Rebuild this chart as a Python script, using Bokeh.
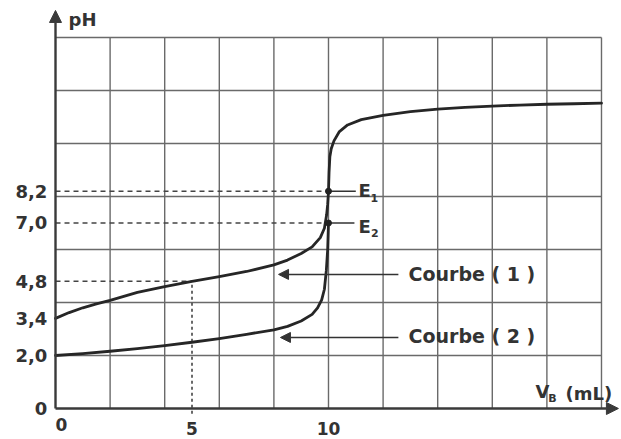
from bokeh.plotting import figure
from bokeh.models import Range1d, ColumnDataSource, Arrow, NormalHead
from bokeh.core.properties import value
from bokeh.embed import file_html
from bokeh.resources import INLINE

# ---------------- data ----------------
# Courbe (1): weak acid
v1 = [0, 0.5, 1, 1.5, 2, 3, 4, 5, 6, 7, 8, 8.5, 9, 9.4, 9.7, 9.85, 9.93, 9.97,
      10.0, 10.02, 10.05, 10.1, 10.2, 10.4, 10.7, 11.2, 12, 13, 14, 15, 16, 17, 18, 19, 20]
ph1 = [3.4, 3.62, 3.8, 3.95, 4.08, 4.38, 4.6, 4.8, 4.98, 5.17, 5.42, 5.6, 5.85, 6.1, 6.45, 6.8, 7.3, 7.7,
       8.2, 8.9, 9.5, 9.8, 10.1, 10.45, 10.7, 10.9, 11.06, 11.2, 11.3, 11.36, 11.41, 11.45, 11.48, 11.5, 11.52]
# Courbe (2): strong acid
v2 = [0, 1, 2, 3, 4, 5, 6, 7, 8, 8.5, 9, 9.4, 9.6, 9.75, 9.85, 9.92, 9.97, 10.0]
ph2 = [2.0, 2.07, 2.16, 2.26, 2.37, 2.5, 2.64, 2.8, 2.97, 3.1, 3.3, 3.55, 3.8, 4.1, 4.5, 5.2, 6.0, 7.0]

grid_v = [2, 4, 6, 8, 10, 12, 14, 16, 18, 20]
grid_ph = [2, 4, 6, 8, 10, 12, 14]
v_max = 20
ph_max = 14

x_ticks = [0.22, 5, 10]
x_tick_labels = ["0", "5", "10"]
y_ticks = [0, 2.0, 3.4, 4.8, 7.0, 8.2]
y_tick_labels = ["0", "2,0", "3,4", "4,8", "7,0", "8,2"]

v_eq = 10
ph_E = [8.2, 7.0]
E_names = ["E", "E"]
E_subs = ["1", "2"]
v_half = 5
ph_half = 4.8

courbe_names = ["Courbe ( 1 )", "Courbe ( 2 )"]
courbe_text_v = [12.93, 12.93]
courbe_text_ph = [5.06, 2.75]
pointer_start_v = [12.56, 12.56]
pointer_end_v = [8.17, 8.24]
pointer_ph = [5.06, 2.68]

# ---------------- figure ----------------
INK = "#333333"
GRID = "#6a6a6a"
FONT = value("DejaVu Sans")

p = figure(width=621, height=439, output_backend="svg", toolbar_location=None,
           x_range=Range1d(-2.015, 20.733), y_range=Range1d(-1.170, 15.396),
           x_axis_location=None, y_axis_location=None,
           min_border=0, min_border_left=0, min_border_right=0,
           min_border_top=0, min_border_bottom=0)
p.outline_line_color = None
p.xgrid.visible = False
p.ygrid.visible = False
p.background_fill_color = "white"
p.border_fill_color = "white"

# grid
p.segment(x0=grid_v, y0=0, x1=grid_v, y1=ph_max, line_color=GRID, line_width=1.4)
p.segment(x0=0, y0=grid_ph, x1=v_max, y1=grid_ph, line_color=GRID, line_width=1.4)

# dashed reading lines
p.segment(x0=[0, 0, 0], y0=ph_E + [ph_half], x1=[v_eq, v_eq, v_half], y1=ph_E + [ph_half],
          line_color="#444444", line_width=1.5, line_dash="5 4")
p.segment(x0=[v_half], y0=[-0.2], x1=[v_half], y1=[ph_half],
          line_color="#444444", line_width=1.6, line_dash="3 3")

# curves
p.line(v2, ph2, line_color="#262626", line_width=2.8, line_join="round", line_cap="round")
p.line(v1, ph1, line_color="#262626", line_width=2.8, line_join="round", line_cap="round")

# equivalence points
p.segment(x0=v_eq, y0=ph_E, x1=[11.0, 10.95], y1=ph_E, line_color=INK, line_width=1.5)
p.scatter([v_eq, v_eq], ph_E, size=6, color="#222222")
p.text(x=[11.1, 11.1], y=[8.23, 6.87], text=E_names, text_font=FONT, text_font_style="bold",
       text_font_size="18px", text_color=INK, text_baseline="middle", text_align="left")
p.text(x=[11.54, 11.56], y=[7.96, 6.64], text=E_subs, text_font=FONT, text_font_style="bold",
       text_font_size="11px", text_color=INK, text_baseline="middle", text_align="left")

# pointers to curves
ptr = ColumnDataSource(dict(xs=pointer_start_v, xe=pointer_end_v, y=pointer_ph))
p.add_layout(Arrow(source=ptr, x_start="xs", y_start="y", x_end="xe", y_end="y",
                   line_color=INK, line_width=1.5,
                   end=NormalHead(size=10, fill_color=INK, line_color=INK, line_width=1)))
p.text(x=courbe_text_v, y=courbe_text_ph, text=courbe_names, text_font=FONT,
       text_font_style="bold", text_font_size="19px", text_color=INK,
       text_baseline="middle", text_align="left")

# axes with arrows
p.add_layout(Arrow(x_start=0, y_start=0, x_end=0, y_end=15.02, line_color="#3a3a3a",
                   line_width=2.4,
                   end=NormalHead(size=12, fill_color="#3a3a3a", line_color="#3a3a3a")))
p.add_layout(Arrow(x_start=0, y_start=0, x_end=20.62, y_end=0, line_color="#3a3a3a",
                   line_width=2.4,
                   end=NormalHead(size=12, fill_color="#3a3a3a", line_color="#3a3a3a")))

# tick labels
p.text(x=-0.3, y=y_ticks, text=y_tick_labels, text_font=FONT,
       text_font_style="bold", text_font_size="18px", text_color=INK,
       text_align="right", text_baseline="middle")
p.text(x=x_ticks, y=[-0.62, -0.74, -0.74], text=x_tick_labels, text_font=FONT,
       text_font_style="bold", text_font_size="17px", text_color=INK,
       text_align="center", text_baseline="middle")

# axis titles
p.text(x=[0.48], y=[14.68], text=["pH"], text_font=FONT, text_font_style="bold",
       text_font_size="18px", text_color=INK, text_baseline="middle", text_align="left")
p.text(x=[17.58], y=[0.64], text=["V"], text_font=FONT, text_font_style="bold",
       text_font_size="18px", text_color=INK, text_baseline="middle", text_align="left")
p.text(x=[18.05], y=[0.38], text=["B"], text_font=FONT, text_font_style="bold",
       text_font_size="11px", text_color=INK, text_baseline="middle", text_align="left")
p.text(x=[18.68], y=[0.55], text=["(mL)"], text_font=FONT, text_font_style="bold",
       text_font_size="18px", text_color=INK, text_baseline="middle", text_align="left")

open("out.html", "w").write(file_html(p, INLINE))
